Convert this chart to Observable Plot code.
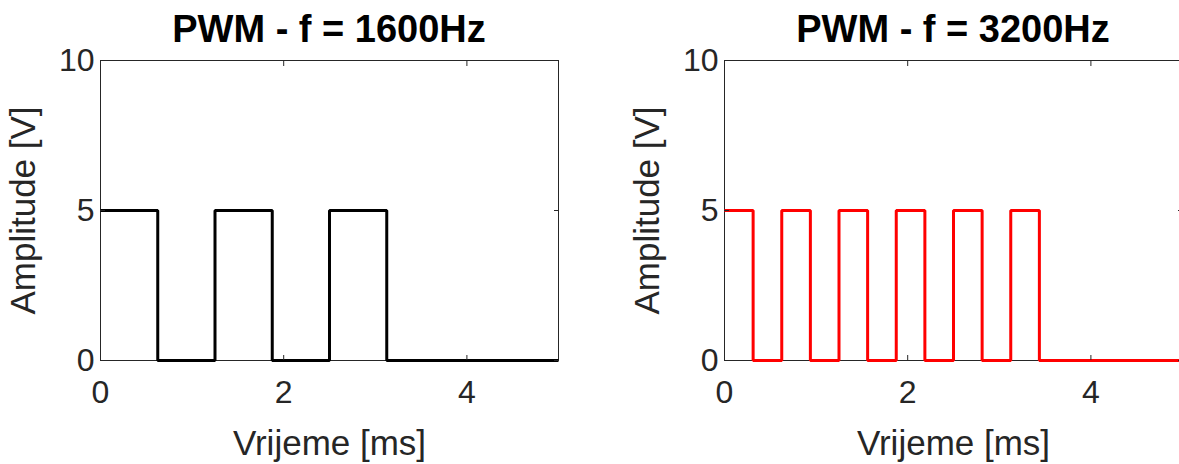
<!DOCTYPE html>
<html><head><meta charset="utf-8">
<script src="https://cdn.jsdelivr.net/npm/d3@7"></script>
<script src="https://cdn.jsdelivr.net/npm/@observablehq/plot@0.6"></script>
<style>
html,body{margin:0;padding:0;background:#fff;width:1179px;height:464px;overflow:hidden;position:relative;}
.panel{position:absolute;top:0;width:600px;height:464px;}
.title{position:absolute;top:4px;height:50px;line-height:50px;font-family:"Liberation Sans",Arial,sans-serif;font-weight:bold;font-size:38px;color:#000;text-align:center;white-space:pre;}
.chart{position:absolute;left:0;top:50px;overflow:visible;}
g[aria-label="x-axis label"], g[aria-label="y-axis label"]{font-size:35px;}
</style></head><body>
<script>
const xTicks = [0, 2, 4];
const yTicks = [0, 5, 10];
const xDomain = [0, 5];
const yDomain = [0, 10];
const titles = ["PWM - f = 1600Hz", "PWM - f = 3200Hz"];
const xLabel = "Vrijeme [ms]";
const yLabel = "Amplitude [V]";
const t1600 = [0, 0.625, 1.25, 1.875, 2.5, 3.125, 5];
const v1600 = [5, 0, 5, 0, 5, 0, 0];
const t3200 = [0, 0.3125, 0.625, 0.9375, 1.25, 1.5625, 1.875, 2.1875, 2.5, 2.8125, 3.125, 3.4375, 5];
const v3200 = [5, 0, 5, 0, 5, 0, 5, 0, 5, 0, 5, 0, 0];
const colors = ["#000000", "#ff0000"];

function panel(left, ml, mr, times, vals, color, title) {
  const div = document.createElement("div");
  div.className = "panel";
  div.style.left = left + "px";
  const W = 600, H = 414;
  const tdiv = document.createElement("div");
  tdiv.className = "title";
  tdiv.style.left = ml + "px";
  tdiv.style.width = (W - ml - mr) + "px";
  tdiv.textContent = title;
  div.appendChild(tdiv);
  const chart = Plot.plot({
    width: W, height: H,
    marginLeft: ml, marginRight: mr, marginTop: 10, marginBottom: 104,
    style: {fontFamily: '"Liberation Sans", Arial, sans-serif', fontSize: "32px", color: "#262626", background: "transparent", overflow: "visible"},
    x: {domain: xDomain},
    y: {domain: yDomain},
    marks: [
      Plot.frame({stroke: "#262626", strokeWidth: 1}),
      Plot.line(vals, {x: times, y: vals, curve: "step-after", stroke: color, strokeWidth: 3, strokeLinejoin: "miter", strokeLinecap: "butt"}),
      Plot.axisX(xTicks, {anchor: "bottom", tickSize: -5, fill: "none", label: null}),
      Plot.axisX(xTicks, {anchor: "top", tickSize: -5, fill: "none", label: null}),
      Plot.axisY(yTicks, {anchor: "left", tickSize: -5, fill: "none", label: null}),
      Plot.axisY(yTicks, {anchor: "right", tickSize: -5, fill: "none", label: null}),
      Plot.axisX(xTicks, {anchor: "bottom", tickSize: 0, tickPadding: 20, label: xLabel, labelAnchor: "center", labelOffset: 94, labelArrow: "none"}),
      Plot.axisY(yTicks, {anchor: "left", tickSize: 0, tickPadding: 6, label: yLabel, labelAnchor: "center", labelOffset: 90, labelArrow: "none"})
    ]
  });
  chart.classList.add("chart");
  div.appendChild(chart);
  document.body.appendChild(div);
}
panel(0, 100, 42, t1600, v1600, colors[0], titles[0]);
panel(600, 124, 18, t3200, v3200, colors[1], titles[1]);
</script>
</body></html>
